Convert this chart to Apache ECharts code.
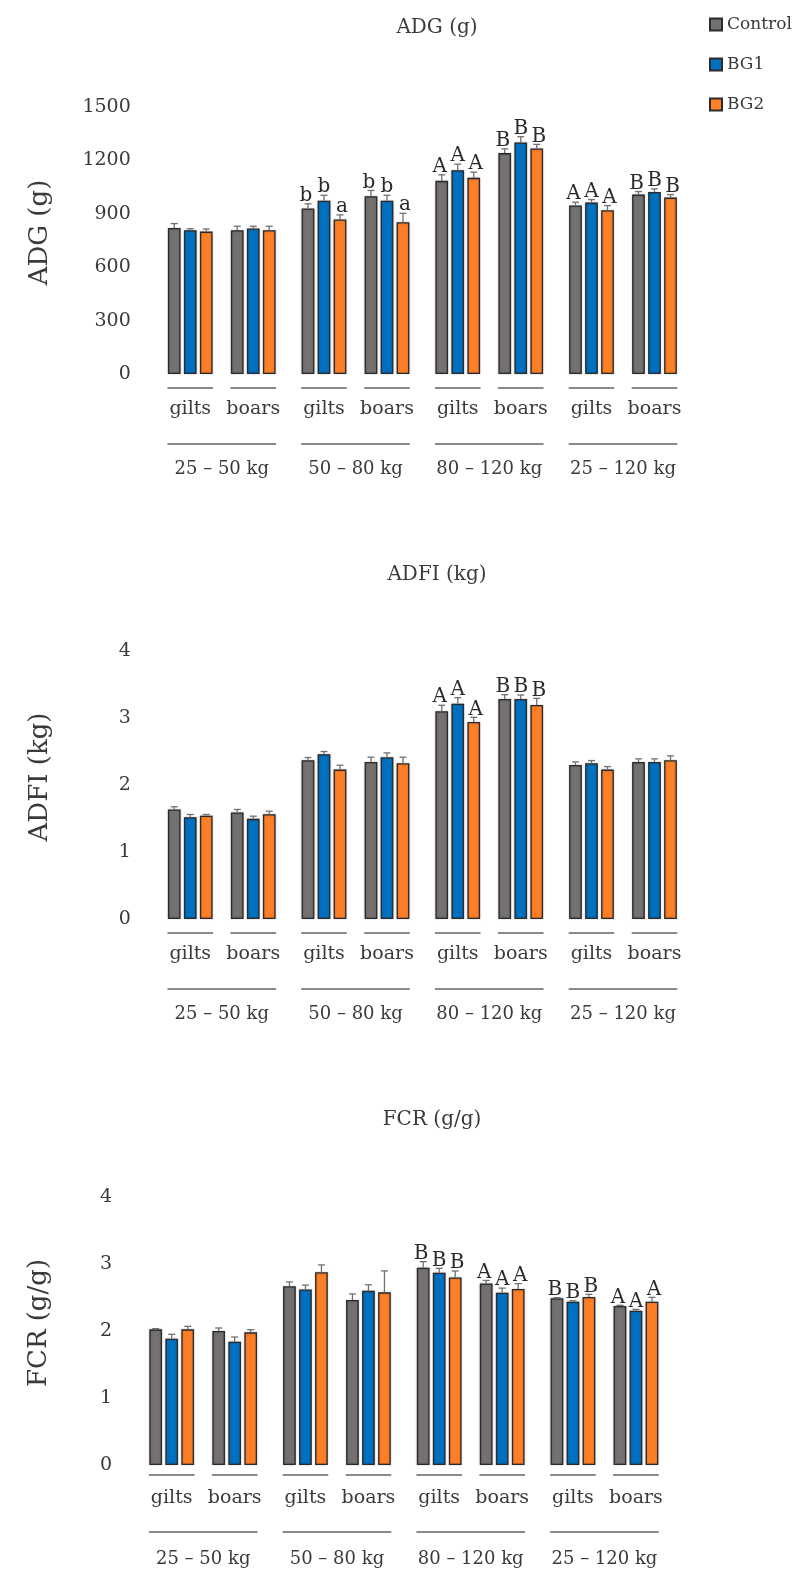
<!DOCTYPE html>
<html><head><meta charset="utf-8">
<script src="https://cdn.jsdelivr.net/npm/echarts@6/dist/echarts.min.js"></script>
<style>html,body{margin:0;padding:0;background:#fff;}#c{width:795px;height:1571px;}</style>
</head><body><div id="c"></div>
<script>
// ---------- data ----------
const seriesNames = ['Control', 'BG1', 'BG2'];
const sexes = ['gilts', 'boars'];
const weightGroups = ['25 – 50 kg', '50 – 80 kg', '80 – 120 kg', '25 – 120 kg'];
const panelTitles = ['ADG (g)', 'ADFI (kg)', 'FCR (g/g)'];
const axisNames = ['ADG (g)', 'ADFI (kg)', 'FCR (g/g)'];
const yMax = [1500, 4, 4];
const yInterval = [300, 1, 1];

// order: 25-50 gilts, 25-50 boars, 50-80 gilts, 50-80 boars, 80-120 gilts, 80-120 boars, 25-120 gilts, 25-120 boars
const adgControl = [820, 808, 930, 999, 1085, 1241, 947, 1008];
const adgBG1     = [808, 817, 973, 973, 1145, 1301, 963, 1023];
const adgBG2     = [800, 808, 868, 853, 1102, 1267, 920, 991];
const adgErrControl = [25, 22, 26, 32, 34, 24, 18, 17];
const adgErrBG1     = [8, 13, 31, 31, 34, 32, 17, 17];
const adgErrBG2     = [15, 22, 26, 50, 32, 23, 26, 17];
const adgLetControl = ['', '', 'b', 'b', 'A', 'B', 'A', 'B'];
const adgLetBG1     = ['', '', 'b', 'b', 'A', 'B', 'A', 'B'];
const adgLetBG2     = ['', '', 'a', 'a', 'A', 'B', 'A', 'B'];

const adfiControl = [1.635, 1.59, 2.37, 2.345, 3.10, 3.283, 2.30, 2.345];
const adfiBG1     = [1.52, 1.495, 2.46, 2.414, 3.214, 3.283, 2.325, 2.345];
const adfiBG2     = [1.54, 1.565, 2.23, 2.325, 2.94, 3.194, 2.23, 2.37];
const adfiErrControl = [0.04, 0.045, 0.04, 0.07, 0.09, 0.065, 0.045, 0.045];
const adfiErrBG1     = [0.04, 0.04, 0.04, 0.065, 0.09, 0.06, 0.04, 0.045];
const adfiErrBG2     = [0.02, 0.045, 0.065, 0.09, 0.07, 0.10, 0.045, 0.065];
const adfiLetControl = ['', '', '', '', 'A', 'B', '', ''];
const adfiLetBG1     = ['', '', '', '', 'A', 'B', '', ''];
const adfiLetBG2     = ['', '', '', '', 'A', 'B', '', ''];

const fcrControl = [2.025, 2.0, 2.667, 2.463, 2.945, 2.71, 2.488, 2.373];
const fcrBG1     = [1.886, 1.84, 2.62, 2.60, 2.87, 2.57, 2.437, 2.303];
const fcrBG2     = [2.025, 1.98, 2.876, 2.577, 2.80, 2.627, 2.507, 2.437];
const fcrErrControl = [0.01, 0.045, 0.065, 0.09, 0.09, 0.045, 0.01, 0.01];
const fcrErrBG1     = [0.065, 0.07, 0.065, 0.09, 0.065, 0.07, 0.015, 0.02];
const fcrErrBG2     = [0.045, 0.04, 0.11, 0.32, 0.095, 0.08, 0.04, 0.065];
const fcrLetControl = ['', '', '', '', 'B', 'A', 'B', 'A'];
const fcrLetBG1     = ['', '', '', '', 'B', 'A', 'B', 'A'];
const fcrLetBG2     = ['', '', '', '', 'B', 'A', 'B', 'A'];

const panelValues  = [[adgControl, adgBG1, adgBG2], [adfiControl, adfiBG1, adfiBG2], [fcrControl, fcrBG1, fcrBG2]];
const panelErrors  = [[adgErrControl, adgErrBG1, adgErrBG2], [adfiErrControl, adfiErrBG1, adfiErrBG2], [fcrErrControl, fcrErrBG1, fcrErrBG2]];
const panelLetters = [[adgLetControl, adgLetBG1, adgLetBG2], [adfiLetControl, adfiLetBG1, adfiLetBG2], [fcrLetControl, fcrLetBG1, fcrLetBG2]];

// ---------- style / layout ----------
const COLORS = ['#767171', '#0070C0', '#FF7F27'];
const SERIF = 'DejaVu Serif';
const TXT = '#3a3a3a';
const BAR_W = 12.7, BAR_GAP = 3.3, STRIDE = BAR_W + BAR_GAP;
const CAT_W = 63, GROUP_STEP = 133.75;
const layout = [
  { top: 107, bottom: 374, left0: 158.75, titleTop: 13, titleX: 432, shortOff: 14, longOff: 70, labMargin: 26, nameGap: 86, axNameGap: 106 },
  { top: 651, bottom: 919, left0: 158.75, titleTop: 560, titleX: 432, shortOff: 14, longOff: 70, labMargin: 26, nameGap: 86, axNameGap: 106 },
  { top: 1197, bottom: 1465, left0: 140.2, titleTop: 1105, titleX: 427, shortOff: 10, longOff: 67, labMargin: 24, nameGap: 85, axNameGap: 88 }
];

const grids = [], xAxes = [], yAxes = [], series = [], titles = [];
layout.forEach((L, p) => {
  titles.push({ text: panelTitles[p], left: L.titleX, top: L.titleTop, textAlign: 'center',
    textStyle: { fontFamily: SERIF, fontSize: 20, fontWeight: 'normal', color: TXT } });
  for (let k = 0; k < 4; k++) {
    const g = p * 4 + k;
    grids.push({ left: L.left0 + k * GROUP_STEP, top: L.top, width: 2 * CAT_W, height: L.bottom - L.top, outerBoundsMode: 'none' });
    xAxes.push({ type: 'category', gridIndex: g, data: sexes,
      axisLine: { show: false }, axisTick: { show: false },
      axisLabel: { interval: 0, margin: L.labMargin, fontFamily: SERIF, fontSize: 19, color: TXT },
      name: weightGroups[k], nameLocation: 'middle', nameGap: L.nameGap,
      nameTextStyle: { fontFamily: SERIF, fontSize: 18, color: TXT } });
    yAxes.push({ type: 'value', gridIndex: g, min: 0, max: yMax[p], interval: yInterval[p], show: k === 0,
      axisLine: { show: false }, axisTick: { show: false }, splitLine: { show: false },
      axisLabel: { margin: 28, fontFamily: SERIF, fontSize: 19, color: TXT, formatter: v => String(v) },
      name: k === 0 ? axisNames[p] : '', nameLocation: 'middle', nameRotate: 90, nameGap: L.axNameGap,
      nameTextStyle: { fontFamily: SERIF, fontSize: 26, color: TXT, padding: [0, 0, 0, 16] } });
    for (let s = 0; s < 3; s++) {
      const vals = panelValues[p][s].slice(2 * k, 2 * k + 2);
      const errs = panelErrors[p][s].slice(2 * k, 2 * k + 2);
      const lets = panelLetters[p][s].slice(2 * k, 2 * k + 2);
      series.push({ type: 'bar', name: seriesNames[s], xAxisIndex: g, yAxisIndex: g, data: vals,
        barWidth: BAR_W, barGap: (BAR_GAP / BAR_W * 100).toFixed(1) + '%',
        itemStyle: { color: COLORS[s], borderColor: '#2b2b2b', borderWidth: 1.3,
          shadowColor: 'rgba(0,0,0,0.25)', shadowBlur: 2 },
        emphasis: { disabled: true }, animation: false });
      series.push({ type: 'custom', name: seriesNames[s] + ' err', xAxisIndex: g, yAxisIndex: g, z: 5,
        data: vals.map((v, i) => [i, v, errs[i]]), silent: true, animation: false,
        renderItem: (params, api) => {
          const i = params.dataIndex;
          const v = api.value(1), e = api.value(2);
          const a = api.coord([api.value(0), v]);
          const b = api.coord([api.value(0), v + e]);
          const x = a[0] + (s - 1) * STRIDE;
          const ch = [
            { type: 'line', shape: { x1: x, y1: a[1], x2: x, y2: b[1] }, style: { stroke: '#707070', lineWidth: 1.3 } },
            { type: 'line', shape: { x1: x - 3.5, y1: b[1], x2: x + 3.5, y2: b[1] }, style: { stroke: '#707070', lineWidth: 1.3 } }
          ];
          if (lets[i]) ch.push({ type: 'text', x: x + (s - 1) * 2, y: b[1] + 2,
            style: { text: lets[i], fontFamily: SERIF, fontSize: 20, fill: '#2a2a2a', align: 'center', verticalAlign: 'bottom' } });
          return { type: 'group', children: ch };
        } });
    }
  }
});

const chart = echarts.init(document.getElementById('c'), null, { renderer: 'canvas' });
chart.setOption({
  animation: false,
  backgroundColor: '#fff',
  title: titles,
  legend: { data: seriesNames, orient: 'vertical', left: 704, top: 11, itemWidth: 12, itemHeight: 12, itemGap: 23,
    icon: 'rect', textStyle: { fontFamily: SERIF, fontSize: 17, color: TXT } },
  grid: grids, xAxis: xAxes, yAxis: yAxes, series: series
});

// underline rules under sex and weight-group labels
const graphics = [];
layout.forEach((L, p) => {
  for (let k = 0; k < 4; k++) {
    const g = p * 4 + k;
    const c0 = chart.convertToPixel({ gridIndex: g }, [0, 0]);
    const c1 = chart.convertToPixel({ gridIndex: g }, [1, 0]);
    const half = 22.8;
    const ls = { stroke: '#8a8a8a', lineWidth: 2 };
    [c0, c1].forEach(c => graphics.push({ type: 'line', shape: { x1: c[0] - half, y1: c[1] + L.shortOff, x2: c[0] + half, y2: c[1] + L.shortOff }, style: ls }));
    graphics.push({ type: 'line', shape: { x1: c0[0] - half, y1: c0[1] + L.longOff, x2: c1[0] + half, y2: c1[1] + L.longOff }, style: ls });
  }
});
chart.setOption({ graphic: graphics });
</script></body></html>
